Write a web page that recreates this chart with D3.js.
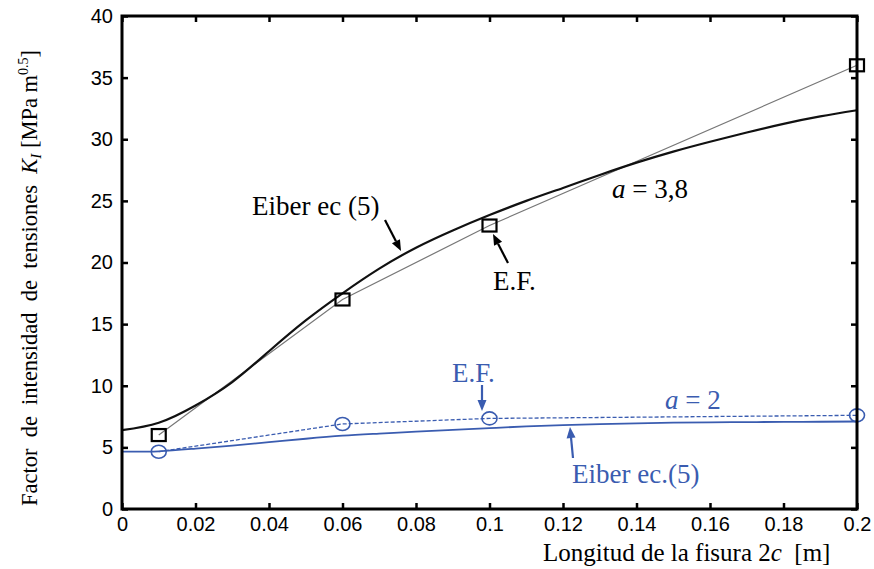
<!DOCTYPE html>
<html><head><meta charset="utf-8">
<script src="https://cdn.jsdelivr.net/npm/d3@7"></script>
<style>body{margin:0;background:#fff}svg{display:block}</style>
</head><body>
<svg id="c" width="874" height="569"></svg>
<script>
// ---- data ----
const xTicks = [0,0.02,0.04,0.06,0.08,0.1,0.12,0.14,0.16,0.18,0.2];
const xTickLabels = ["0","0.02","0.04","0.06","0.08","0.1","0.12","0.14","0.16","0.18","0.2"];
const yTicks = [0,5,10,15,20,25,30,35,40];
const yTickLabels = ["0","5","10","15","20","25","30","35","40"];

// a = 3,8  Eiber ec (5)
const eiber38X = [0,0.01,0.02,0.03,0.04,0.05,0.06,0.07,0.08,0.09,0.1,0.11,0.12,0.13,0.14,0.15,0.16,0.17,0.18,0.19,0.2];
const eiber38Y = [6.4,7.0,8.4,10.3,12.8,15.3,17.5,19.5,21.2,22.6,23.85,25.0,26.05,27.1,28.1,29.0,29.8,30.55,31.25,31.85,32.35];
// a = 3,8  E.F.
const ef38X = [0.01,0.06,0.1,0.2];
const ef38Y = [6.0,17.0,23.0,36.0];
// a = 2  Eiber ec (5)
const eiber2X = [0,0.01,0.02,0.03,0.04,0.05,0.06,0.07,0.08,0.09,0.1,0.11,0.12,0.13,0.14,0.15,0.16,0.17,0.18,0.19,0.2];
const eiber2Y = [4.65,4.68,4.9,5.15,5.42,5.7,5.95,6.12,6.28,6.42,6.56,6.7,6.8,6.88,6.95,7.0,7.03,7.05,7.07,7.08,7.1];
// a = 2  E.F.
const ef2X = [0.01,0.06,0.1,0.2];
const ef2Y = [4.65,6.9,7.35,7.6];

// ---- layout ----
const svg = d3.select("#c");
const L=122,R=857,T=16,B=509;
const x = d3.scaleLinear().domain([0,0.2]).range([L,R]);
const y = d3.scaleLinear().domain([0,40]).range([B,T]);
const blue = "#3a5cb0";
const serif = "'Liberation Serif','Times New Roman',serif";
const sans = "'Liberation Sans',Arial,sans-serif";

// axes
const axB = d3.axisBottom(x).tickValues(xTicks).tickFormat((d,i)=>xTickLabels[i]).tickSizeInner(-6).tickSizeOuter(0).tickPadding(8);
const axL = d3.axisLeft(y).tickValues(yTicks).tickFormat((d,i)=>yTickLabels[i]).tickSizeInner(-6).tickSizeOuter(0).tickPadding(9);
const axT = d3.axisTop(x).tickValues(xTicks).tickFormat("").tickSizeInner(-6).tickSizeOuter(0);
const axR = d3.axisRight(y).tickValues(yTicks).tickFormat("").tickSizeInner(-6).tickSizeOuter(0);
function styleAx(g){
  g.select(".domain").remove();
  g.selectAll(".tick line").attr("stroke","#000").attr("stroke-width",2.5);
  g.selectAll(".tick text").attr("font-family",sans).attr("font-size",20).attr("fill","#000");
}
svg.append("g").attr("transform",`translate(0,${B})`).call(axB).call(styleAx);
svg.append("g").attr("transform",`translate(${L},0)`).call(axL).call(styleAx);
svg.append("g").attr("transform",`translate(0,${T})`).call(axT).call(styleAx);
svg.append("g").attr("transform",`translate(${R},0)`).call(axR).call(styleAx);

// lines
const line = d3.line().x(d=>x(d[0])).y(d=>y(d[1]));
const smooth = d3.line().x(d=>x(d[0])).y(d=>y(d[1])).curve(d3.curveNatural);
const z = (xs,ys)=>xs.map((v,i)=>[v,ys[i]]);

svg.append("path").attr("d",line(z(ef38X,ef38Y))).attr("fill","none").attr("stroke","#777").attr("stroke-width",1.2);
svg.append("path").attr("d",smooth(z(eiber38X,eiber38Y))).attr("fill","none").attr("stroke","#111").attr("stroke-width",2.2);
svg.append("path").attr("d",line(z(ef2X,ef2Y))).attr("fill","none").attr("stroke",blue).attr("stroke-width",1.3).attr("stroke-dasharray","4,2");
svg.append("path").attr("d",smooth(z(eiber2X,eiber2Y))).attr("fill","none").attr("stroke",blue).attr("stroke-width",1.8);

// markers
svg.selectAll(".sq").data(z(ef38X,ef38Y)).enter().append("rect")
  .attr("x",d=>x(d[0])-7).attr("y",d=>y(d[1])-6).attr("width",14).attr("height",12)
  .attr("fill","none").attr("stroke","#000").attr("stroke-width",2.2);
svg.selectAll(".ci").data(z(ef2X,ef2Y)).enter().append("ellipse")
  .attr("cx",d=>x(d[0])).attr("cy",d=>y(d[1])).attr("rx",7.5).attr("ry",6.5)
  .attr("fill","none").attr("stroke",blue).attr("stroke-width",1.6);

// frame
svg.append("rect").attr("x",L).attr("y",T).attr("width",R-L).attr("height",B-T)
  .attr("fill","none").attr("stroke","#000").attr("stroke-width",3);

// arrows
function arrow(x1,y1,x2,y2,col){
  const a=Math.atan2(y2-y1,x2-x1), len=11, w=4.5;
  const bx=x2-len*Math.cos(a), by=y2-len*Math.sin(a);
  svg.append("line").attr("x1",x1).attr("y1",y1).attr("x2",bx).attr("y2",by).attr("stroke",col).attr("stroke-width",2.2);
  const px=-Math.sin(a)*w, py=Math.cos(a)*w;
  svg.append("path").attr("d",`M${x2},${y2}L${bx+px},${by+py}L${bx-px},${by-py}Z`).attr("fill",col);
}
arrow(385,220,401,251,"#000");
arrow(508,263,493,234,"#000");
arrow(482,385,482,411,blue);
arrow(573,458,570,427,blue);

// annotations
function txt(xp,yp,col){return svg.append("text").attr("x",xp).attr("y",yp).attr("font-family",serif).attr("font-size",27).attr("fill",col);}
txt(252,215,"#000").text("Eiber ec (5)");
txt(493,290,"#000").text("E.F.");
const t1=txt(612,198,"#000"); t1.append("tspan").attr("font-style","italic").text("a"); t1.append("tspan").text(" = 3,8");
txt(452,382,blue).text("E.F.");
const t2=txt(665,409,blue); t2.append("tspan").attr("font-style","italic").text("a"); t2.append("tspan").text(" = 2");
txt(572,483,blue).text("Eiber ec.(5)");

// axis titles
const xt = svg.append("text").attr("x",543).attr("y",561).attr("font-family",serif).attr("font-size",25).attr("fill","#000").style("white-space","pre");
xt.append("tspan").text("Longitud de la fisura 2");
xt.append("tspan").attr("font-style","italic").text("c");
xt.append("tspan").text("  [m]");

const yt = svg.append("text").attr("transform","translate(37,278) rotate(-90)").attr("text-anchor","middle")
  .attr("font-family",serif).attr("font-size",22.5).attr("fill","#000").style("white-space","pre");
yt.append("tspan").text("Factor  de  intensidad  de  tensiones  ");
yt.append("tspan").attr("font-style","italic").text("K");
yt.append("tspan").attr("font-style","italic").attr("font-size",15).attr("dy",4).text("I");
yt.append("tspan").attr("dy",-4).text(" [MPa m");
yt.append("tspan").attr("font-size",14).attr("dy",-9).text("0.5");
yt.append("tspan").attr("dy",9).text("]");
</script>
</body></html>
